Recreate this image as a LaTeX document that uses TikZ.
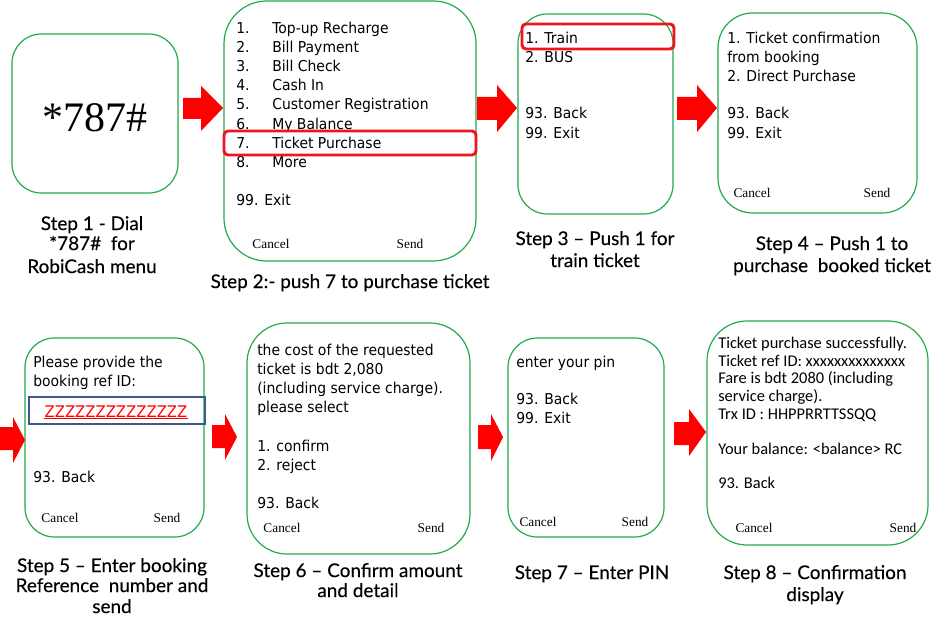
\documentclass[tikz,border=0pt]{standalone}
\usepackage{fontspec}
\setmainfont{Liberation Serif}
\newfontfamily\boxfont[FakeStretch=0.93]{DejaVu Sans}
\newfontfamily\calfont{Carlito}
\newfontfamily\capfont[FakeBold=0.2]{Lato}
\definecolor{screengreen}{RGB}{34,172,76}
\definecolor{arrowred}{RGB}{255,0,0}
\definecolor{hired}{RGB}{240,20,30}
\definecolor{inblue}{RGB}{62,88,138}
\tikzset{
  screen/.style={draw=screengreen, line width=0.9pt},
  hilite/.style={draw=hired, line width=2.2pt, rounded corners=3pt},
  blockarrow/.style={fill=arrowred, draw=none},
  txt/.style={anchor=mid west, inner sep=0pt, yshift=-1.5pt, font=\boxfont\fontsize{11.25}{13}\selectfont},
  ctxt/.style={anchor=mid west, inner sep=0pt, yshift=-1.5pt, font=\calfont\fontsize{12.3}{14}\selectfont},
  softkey/.style={anchor=mid, inner sep=0pt, font=\fontsize{10}{12}\selectfont},
  caption/.style={anchor=mid, inner sep=0pt, yshift=-1.5pt, font=\capfont\fontsize{14.2}{16}\selectfont}
}
\begin{document}
\begin{tikzpicture}[x=0.75pt,y=-0.75pt]
\useasboundingbox (0,0) rectangle (948,627);
\fill[white] (0,0) rectangle (948,627);

% ---------- screens ----------
\draw[screen, rounded corners=22pt] (12,34) rectangle (178,193);
\draw[screen, rounded corners=32pt] (224,1) rectangle (476,261);
\draw[screen, rounded corners=22pt] (518,14) rectangle (673,214);
\draw[screen, rounded corners=26pt] (718,13) rectangle (917,213);
\draw[screen, rounded corners=22pt] (25,338) rectangle (204,537);
\draw[screen, rounded corners=30pt] (247,323) rectangle (470,554);
\draw[screen, rounded corners=22pt] (508,338) rectangle (664,537);
\draw[screen, rounded corners=30pt] (707,321) rectangle (928,545);

% ---------- block arrows ----------
\fill[blockarrow] (183,98) -- (201,98) -- (201,86) -- (223,108) -- (201,131) -- (201,119) -- (183,119) -- cycle;
\fill[blockarrow] (477,97) -- (497,97) -- (497,85) -- (517,108) -- (497,132) -- (497,120) -- (477,120) -- cycle;
\fill[blockarrow] (677,97) -- (697,97) -- (697,85) -- (717,108) -- (697,132) -- (697,120) -- (677,120) -- cycle;
\fill[blockarrow] (0,427) -- (13,427) -- (13,417) -- (25,440) -- (13,463) -- (13,450) -- (0,450) -- cycle;
\fill[blockarrow] (212,425) -- (225,425) -- (225,414) -- (237,437) -- (225,460) -- (225,448) -- (212,448) -- cycle;
\fill[blockarrow] (478,425) -- (491,425) -- (491,414) -- (503,437) -- (491,461) -- (491,449) -- (478,449) -- cycle;
\fill[blockarrow] (674,422) -- (689,422) -- (689,409) -- (706,432) -- (689,456) -- (689,445) -- (674,445) -- cycle;

% ---------- screen 1 ----------
\node[inner sep=0pt, font=\fontsize{31.5}{31.5}\selectfont] (dial) at (95,118) {*787\#};

% ---------- screen 2 ----------
\foreach \n/\t/\y [count=\i] in {1./Top-up Recharge/28, 2./Bill Payment/47, 3./Bill Check/66, 4./Cash In/85,
  5./Customer Registration/104, 6./My Balance/124, 7./Ticket Purchase/143, 8./More/162}{
  \node[txt] (m\i n) at (236,\y) {\n};
  \node[txt] (m\i t) at (272,\y) {\t};
}
\node[txt] (m99) at (236,200) {99. Exit};
\draw[hilite] (224,131) rectangle (476,155);
\node[softkey] (c2) at (271,245) {Cancel};
\node[softkey] (s2) at (410,245) {Send};

% ---------- screen 3 ----------
\node[txt] (t31) at (525,38) {1. Train};
\node[txt] (t32) at (525,57) {2. BUS};
\node[txt] (t33) at (525,113) {93. Back};
\node[txt] (t34) at (525,133) {99. Exit};
\draw[hilite] (522,24) rectangle (674,49);

% ---------- screen 4 ----------
\node[txt] (t41) at (727,38) {1. Ticket confirmation};
\node[txt] (t42) at (727,57) {from booking};
\node[txt] (t43) at (727,76) {2. Direct Purchase};
\node[txt] (t44) at (727,113) {93. Back};
\node[txt] (t45) at (727,133) {99. Exit};
\node[softkey] (c4) at (752,194) {Cancel};
\node[softkey] (s4) at (877,194) {Send};

% ---------- screen 5 ----------
\node[txt] (t51) at (33,362) {Please provide the};
\node[txt] (t52) at (33,381) {booking ref ID:};
\draw[draw=inblue, line width=2.2pt] (29,397) rectangle (205,424);
\node[inner sep=0pt, anchor=base, text=red, font=\boxfont\fontsize{12}{13}\selectfont] (zz) at (116,417) {ZZZZZZZZZZZZZZ};
\draw[red, line width=0.5pt] ([yshift=-1pt]zz.base west) -- ([yshift=-1pt]zz.base east);
\node[txt] (t53) at (33,477) {93. Back};
\node[softkey] (c5) at (60,519) {Cancel};
\node[softkey] (s5) at (167,519) {Send};

% ---------- screen 6 ----------
\node[txt] (t61) at (257,350) {the cost of the requested};
\node[txt] (t62) at (257,369) {ticket is bdt 2,080};
\node[txt] (t63) at (257,388) {(including service charge).};
\node[txt] (t64) at (257,407) {please select};
\node[txt] (t65) at (257,446) {1. confirm};
\node[txt] (t66) at (257,465) {2. reject};
\node[txt] (t67) at (257,503) {93. Back};
\node[softkey] (c6) at (282,529) {Cancel};
\node[softkey] (s6) at (431,529) {Send};

% ---------- screen 7 ----------
\node[txt] (t71) at (516,362) {enter your pin};
\node[txt] (t72) at (516,399) {93. Back};
\node[txt] (t73) at (516,418) {99. Exit};
\node[softkey] (c7) at (538,523) {Cancel};
\node[softkey] (s7) at (635,523) {Send};

% ---------- screen 8 ----------
\node[ctxt] (t81) at (718,343) {Ticket purchase successfully.};
\node[ctxt] (t82) at (718,361) {Ticket ref ID: xxxxxxxxxxxxxx};
\node[ctxt] (t83) at (718,378) {Fare is bdt 2080 (including};
\node[ctxt] (t84) at (718,396) {service charge).};
\node[ctxt] (t85) at (718,414) {Trx ID : HHPPRRTTSSQQ};
\node[ctxt] (t86) at (718,449) {Your balance: <balance> RC};
\node[ctxt] (t87) at (718,483) {93. Back};
\node[softkey] (c8) at (754,529) {Cancel};
\node[softkey] (s8) at (903,529) {Send};

% ---------- captions ----------
\node[caption] (cap1a) at (92,225) {Step 1 - Dial};
\node[caption] (cap1b) at (92,245) {*787\#\ \ for};
\node[caption] (cap1c) at (92,268) {RobiCash menu};
\node[caption] (cap2) at (350,283) {Step 2:- push 7 to purchase ticket};
\node[caption] (cap3a) at (595,240) {Step 3 – Push 1 for};
\node[caption] (cap3b) at (595,262) {train ticket};
\node[caption] (cap4a) at (832,245) {Step 4 – Push 1 to};
\node[caption] (cap4b) at (832,267) {purchase\ \ booked ticket};
\node[caption] (cap5a) at (112,567) {Step 5 – Enter booking};
\node[caption] (cap5b) at (112,587) {Reference\ \ number and};
\node[caption] (cap5c) at (112,608) {send};
\node[caption] (cap6a) at (358,572) {Step 6 – Confirm amount};
\node[caption] (cap6b) at (358,592) {and detail};
\node[caption] (cap7) at (592,574) {Step 7 – Enter PIN};
\node[caption] (cap8a) at (815,574) {Step 8 – Confirmation};
\node[caption] (cap8b) at (815,596) {display};
\end{tikzpicture}
\end{document}
